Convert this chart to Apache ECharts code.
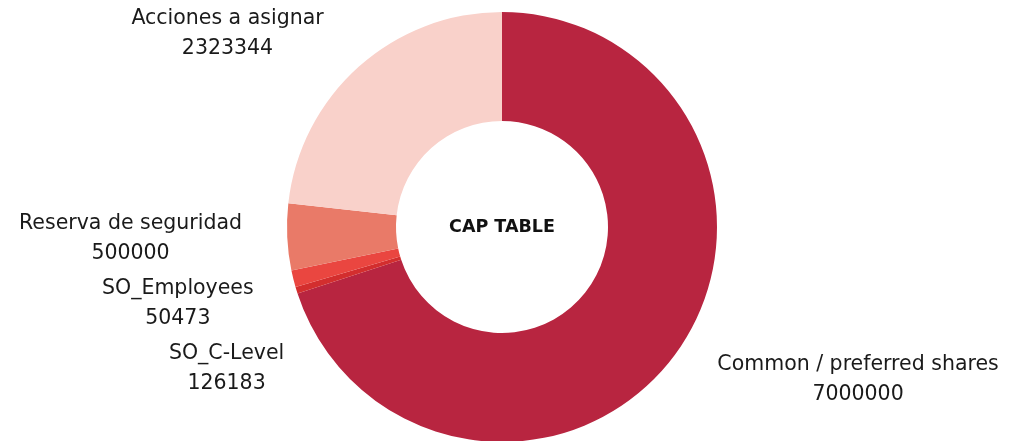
<!DOCTYPE html>
<html>
<head>
<meta charset="utf-8">
<script src="https://cdn.jsdelivr.net/npm/echarts@6/dist/echarts.min.js"></script>
<style>
  html, body { margin: 0; padding: 0; background: #fff; }
  #chart { width: 1015px; height: 441px; }
</style>
</head>
<body>
<div id="chart"></div>
<script>
// datos del cap table
const names = ['Common / preferred shares', 'SO_Employees', 'SO_C-Level', 'Reserva de seguridad', 'Acciones a asignar'];
const values = [7000000, 50473, 126183, 500000, 2323344];
const colors = ['#b82540', '#d32e2e', '#ea4640', '#e97a68', '#f9d1ca'];

const cx = 502, cy = 227, rOut = 215, rIn = 106, lineLen = 45;

const chartInstance = echarts.init(document.getElementById('chart'));

// rects de las etiquetas calculadas por echarts (primera pasada)
const rects = {};
// SO_Employees y SO_C-Level intercambian su hueco, como en el original
const swap = { 1: 2, 2: 1 };

function mid(r) {
  return { x: r.x + r.width / 2, y: r.y + r.height / 2, align: 'center', verticalAlign: 'middle' };
}

function firstPass(p) {
  rects[p.dataIndex] = p.labelRect;
  return mid(p.labelRect);
}

function secondPass(p) {
  const own = p.labelRect;
  const other = swap[p.dataIndex];
  if (other === undefined || !rects[other]) return mid(own);
  const slot = rects[other];
  const y = slot.y + slot.height / 2;
  const R = rOut + lineLen;
  const dy = Math.min(Math.abs(y - cy), R);
  const right = cx - Math.sqrt(R * R - dy * dy);
  return { x: right - own.width / 2, y: y, align: 'center', verticalAlign: 'middle' };
}

const option = {
  animation: false,
  title: {
    text: 'CAP TABLE',
    left: cx,
    top: cy,
    textAlign: 'center',
    textVerticalAlign: 'middle',
    padding: 0,
    textStyle: {
      fontFamily: '"DejaVu Sans", sans-serif',
      fontWeight: 'bold',
      fontSize: 17.5,
      color: '#111'
    }
  },
  series: [{
    type: 'pie',
    center: [cx, cy],
    radius: [rIn, rOut],
    startAngle: 90,
    clockwise: true,
    avoidLabelOverlap: true,
    data: names.map((n, i) => ({ name: n, value: values[i], itemStyle: { color: colors[i] } })),
    label: {
      show: true,
      position: 'outside',
      formatter: '{b}\n{c}',
      fontFamily: '"DejaVu Sans", sans-serif',
      fontSize: 20.5,
      lineHeight: 30,
      padding: [1.5, 0, 1.5, 0],
      color: '#1a1a1a'
    },
    labelLine: { show: false, length: lineLen, length2: 0 },
    labelLayout: firstPass
  }]
};

chartInstance.setOption(option);
chartInstance.setOption({ series: [{ labelLayout: secondPass }] });
</script>
</body>
</html>
